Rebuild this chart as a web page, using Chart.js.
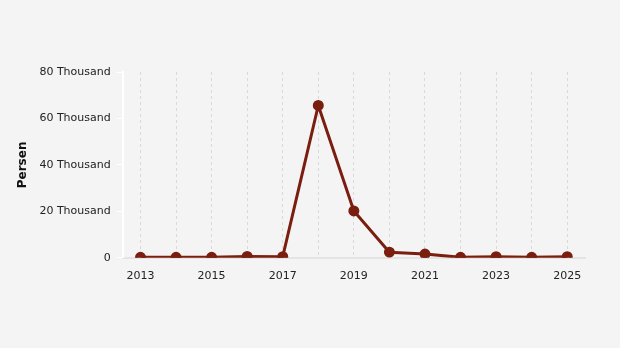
<!DOCTYPE html>
<html>
<head>
<meta charset="utf-8">
<script src="https://cdn.jsdelivr.net/npm/chart.js@4"></script>
<style>
  html, body { margin: 0; padding: 0; background: #f4f4f4; }
  #wrap { width: 620px; height: 348px; }
</style>
</head>
<body>
<div id="wrap"><canvas id="myCanvas" width="620" height="348"></canvas></div>
<script>
const years = ['2013', '2014', '2015', '2016', '2017', '2018', '2019', '2020', '2021', '2022', '2023', '2024', '2025']
const persons = [200, 200, 200, 600, 500, 65600, 20200, 2400, 1600, 200, 500, 200, 500]
const yTicks = [0, 20000, 40000, 60000, 80000]

const lineColor = 'rgb(122, 31, 16)'

var ctx = document.getElementById('myCanvas')
new Chart(ctx, {
    type: 'line',
    data: {
        labels: years,
        datasets: [{
            data: persons,
            borderColor: lineColor,
            backgroundColor: lineColor,
            borderWidth: 3,
            pointRadius: 4,
            pointHoverRadius: 4,
            tension: 0
        }]
    },
    options: {
        responsive: false,
        animation: false,
        layout: { padding: { top: 72, right: 35, bottom: 53, left: 16 } },
        plugins: {
            legend: { display: false },
            tooltip: { enabled: false }
        },
        scales: {
            x: {
                offset: true,
                grid: {
                    color: '#d9d9d9',
                    lineWidth: 1,
                    drawTicks: false,
                    offset: false
                },
                border: { color: '#e4e4e4', width: 2, dash: [3, 3] },
                ticks: {
                    color: '#222',
                    font: { family: 'DejaVu Sans', size: 11 },
                    maxRotation: 0,
                    autoSkip: false,
                    padding: 12,
                    callback: function(v, i) { return i % 2 === 0 ? years[i] : '' }
                }
            },
            y: {
                min: 0,
                max: 80000,
                afterBuildTicks: function(axis) { axis.ticks = yTicks.map(v => ({ value: v })) },
                grid: {
                    drawOnChartArea: false,
                    color: '#ffffff',
                    tickLength: 6
                },
                border: { color: '#ffffff', width: 2 },
                ticks: {
                    color: '#222',
                    font: { family: 'DejaVu Sans', size: 11 },
                    padding: 6,
                    callback: function(v) { return v === 0 ? '0' : (v / 1000) + ' Thousand' }
                },
                title: {
                    display: true,
                    text: 'Persen',
                    color: '#111',
                    font: { family: 'DejaVu Sans', size: 12, weight: 'bold' },
                    padding: { top: 0, bottom: 3 }
                }
            }
        }
    }
})
</script>
</body>
</html>
